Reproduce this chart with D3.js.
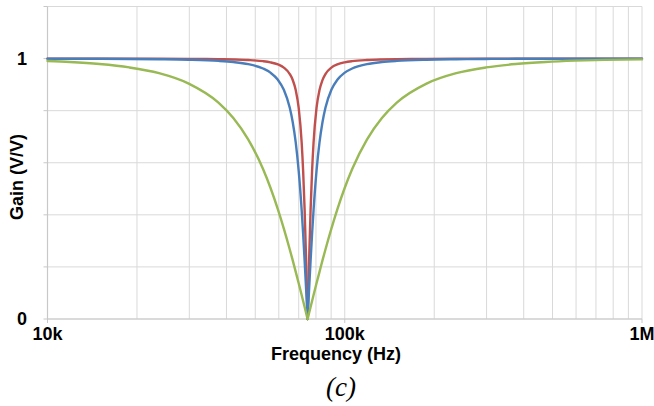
<!DOCTYPE html>
<html>
<head>
<meta charset="utf-8">
<script src="https://cdn.jsdelivr.net/npm/d3@7"></script>
<style>
  html, body { margin: 0; padding: 0; background: #fff; }
  svg { display: block; }
</style>
</head>
<body>
<svg id="chart" width="654" height="406"></svg>
<script>
// Frequency points (kHz)
const freqKHz = [
  10.0, 11.89, 14.97, 18.84, 23.72, 29.86, 37.59, 42.18, 47.32, 53.10,
  56.24, 59.58, 62.38, 65.32, 66.84, 68.40, 69.99, 71.62, 72.45, 73.29,
  74.14, 75.00, 75.87, 76.75, 77.64, 78.54, 80.36, 82.24, 84.15, 86.11,
  90.17, 94.42, 100.01, 105.94, 118.87, 133.37, 149.65, 188.39, 237.17, 298.58,
  375.89, 473.22, 595.75, 750.0, 1000.0
];

// Gain (V/V) of the three notch responses
const gainRed = [
  0.9999, 0.9999, 0.9998, 0.9996, 0.9994, 0.9989, 0.9978, 0.9966, 0.9945, 0.9901,
  0.9856, 0.9776, 0.9655, 0.9407, 0.9176, 0.8791, 0.8103, 0.6776, 0.5684, 0.4183,
  0.2244, 0.0, 0.2244, 0.4183, 0.5684, 0.6776, 0.8103, 0.8791, 0.9176, 0.9407,
  0.9655, 0.9776, 0.9856, 0.9901, 0.9945, 0.9966, 0.9978, 0.9989, 0.9994, 0.9996,
  0.9998, 0.9999, 0.9999, 1.0, 1.0
];
const gainBlue = [
  0.9996, 0.9995, 0.9991, 0.9986, 0.9975, 0.9956, 0.9912, 0.9867, 0.9787, 0.9620,
  0.9460, 0.9185, 0.8800, 0.8110, 0.7557, 0.6780, 0.5687, 0.4184, 0.3265, 0.2244,
  0.1144, 0.0, 0.1144, 0.2244, 0.3265, 0.4184, 0.5687, 0.6780, 0.7557, 0.8110,
  0.8800, 0.9185, 0.9460, 0.9620, 0.9787, 0.9867, 0.9912, 0.9956, 0.9975, 0.9986,
  0.9991, 0.9995, 0.9997, 0.9998, 0.9999
];
const gainGreen = [
  0.991, 0.987, 0.979, 0.966, 0.944, 0.904, 0.831, 0.772, 0.690, 0.576,
  0.504, 0.421, 0.347, 0.267, 0.225, 0.181, 0.137, 0.092, 0.069, 0.046,
  0.023, 0.0, 0.023, 0.046, 0.069, 0.092, 0.137, 0.181, 0.225, 0.267,
  0.347, 0.421, 0.504, 0.576, 0.690, 0.772, 0.831, 0.904, 0.944, 0.966,
  0.979, 0.987, 0.992, 0.995, 0.997
];

// Axis labels
const xTickValues = [1e4, 1e5, 1e6];
const xTickLabels = ["10k", "100k", "1M"];
const yTickValues = [0, 1];
const yTickLabels = ["0", "1"];
const yGridValues = [0, 0.2, 0.4, 0.6, 0.8, 1.0, 1.2];
const xMinorMultipliers = [1, 2, 3, 4, 5, 6, 7, 8, 9];

const svg = d3.select("#chart");
const plotLeft = 47.5, plotRight = 642, plotTop = 6.5, plotBottom = 319;

const x = d3.scaleLog().domain([1e4, 1e6]).range([plotLeft, plotRight]);
const y = d3.scaleLinear().domain([0, 1.2]).range([plotBottom, plotTop]);

const gridColor = "#d9d9d9";

// Vertical gridlines at every decade multiple
const xGrid = [];
[1e4, 1e5].forEach(dec => xMinorMultipliers.forEach(m => xGrid.push(dec * m)));
xGrid.push(1e6);

svg.append("g").selectAll("line").data(xGrid).join("line")
  .attr("x1", d => x(d)).attr("x2", d => x(d))
  .attr("y1", plotTop).attr("y2", plotBottom)
  .attr("stroke", gridColor).attr("stroke-width", 1);

// Horizontal gridlines
svg.append("g").selectAll("line").data(yGridValues).join("line")
  .attr("x1", plotLeft).attr("x2", plotRight)
  .attr("y1", d => y(d)).attr("y2", d => y(d))
  .attr("stroke", gridColor).attr("stroke-width", 1);

// Axis lines with small outside ticks
svg.append("line")
  .attr("x1", plotLeft).attr("x2", plotRight).attr("y1", plotBottom).attr("y2", plotBottom)
  .attr("stroke", "#c8c8c8").attr("stroke-width", 1.2);
svg.append("line")
  .attr("x1", plotLeft).attr("x2", plotLeft).attr("y1", plotTop).attr("y2", plotBottom)
  .attr("stroke", "#c8c8c8").attr("stroke-width", 1.2);

svg.append("g").selectAll("line").data(yGridValues).join("line")
  .attr("x1", plotLeft - 4).attr("x2", plotLeft)
  .attr("y1", d => y(d)).attr("y2", d => y(d))
  .attr("stroke", "#c8c8c8").attr("stroke-width", 1);
svg.append("g").selectAll("line").data(xTickValues).join("line")
  .attr("x1", d => x(d)).attr("x2", d => x(d))
  .attr("y1", plotBottom).attr("y2", plotBottom + 4)
  .attr("stroke", "#c8c8c8").attr("stroke-width", 1);

// Curves: each response is drawn as two smooth monotone branches
// meeting at the notch, so the bottom keeps its sharp V.
const series = [
  { values: gainRed, color: "#c0504d" },
  { values: gainBlue, color: "#4a7ebb" },
  { values: gainGreen, color: "#98b954" }
];
const line = d3.line()
  .curve(d3.curveMonotoneX)
  .x(d => x(d[0] * 1000))
  .y(d => y(d[1]));

series.forEach(s => {
  const pts = freqKHz.map((f, i) => [f, s.values[i]]);
  const notch = d3.minIndex(s.values);
  const g = svg.append("g")
    .attr("fill", "none")
    .attr("stroke", s.color)
    .attr("stroke-width", 2.4)
    .attr("stroke-linejoin", "round")
    .attr("stroke-linecap", "round");
  g.append("path").attr("d", line(pts.slice(0, notch + 1)));
  g.append("path").attr("d", line(pts.slice(notch)));
});

// Tick labels
const font = "Liberation Sans, Arial, Helvetica, sans-serif";
svg.append("g").selectAll("text").data(xTickValues).join("text")
  .attr("x", d => x(d))
  .attr("y", 340)
  .attr("text-anchor", "middle")
  .attr("font-family", font).attr("font-weight", "bold").attr("font-size", 18)
  .attr("fill", "#000")
  .text((d, i) => xTickLabels[i]);

svg.append("g").selectAll("text").data(yTickValues).join("text")
  .attr("x", 27)
  .attr("y", d => y(d))
  .attr("dy", "0.35em")
  .attr("text-anchor", "end")
  .attr("font-family", font).attr("font-weight", "bold").attr("font-size", 18)
  .attr("fill", "#000")
  .text((d, i) => yTickLabels[i]);

// Axis titles
svg.append("text")
  .attr("x", 336).attr("y", 360)
  .attr("text-anchor", "middle")
  .attr("font-family", font).attr("font-weight", "bold").attr("font-size", 18)
  .attr("fill", "#000")
  .text("Frequency (Hz)");

svg.append("text")
  .attr("transform", "translate(23,177) rotate(-90)")
  .attr("text-anchor", "middle")
  .attr("font-family", font).attr("font-weight", "bold").attr("font-size", 18)
  .attr("fill", "#000")
  .text("Gain (V/V)");

// Panel caption
svg.append("text")
  .attr("x", 341).attr("y", 396)
  .attr("text-anchor", "middle")
  .attr("font-family", "Liberation Serif, Times New Roman, serif")
  .attr("font-style", "italic").attr("font-size", 27)
  .attr("fill", "#000")
  .text("(c)");
</script>
</body>
</html>
